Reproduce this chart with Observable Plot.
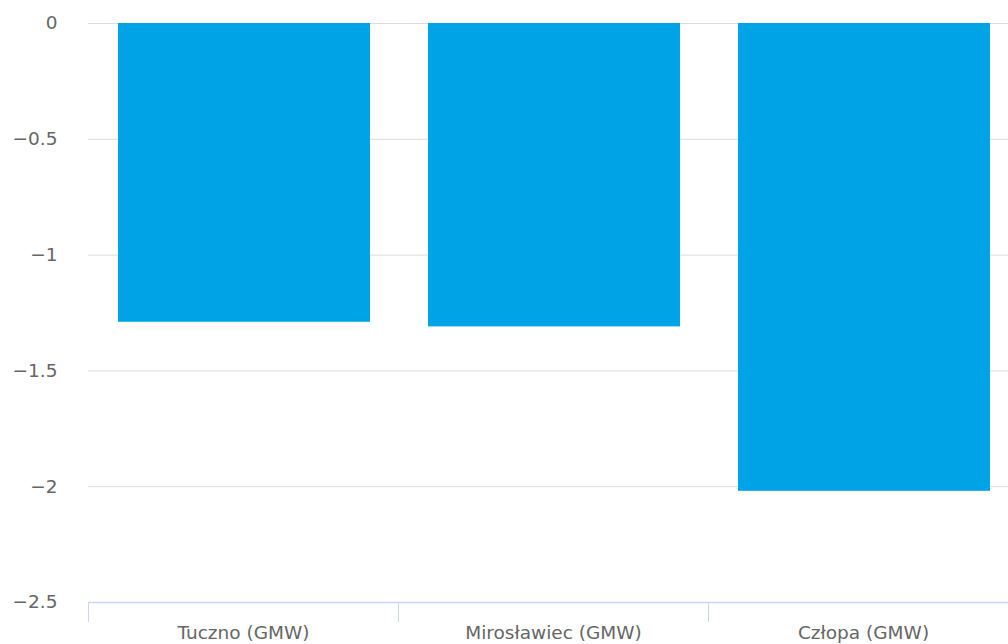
<!DOCTYPE html>
<html>
<head>
<meta charset="utf-8">
<script src="https://cdn.jsdelivr.net/npm/d3@7"></script>
<script src="https://cdn.jsdelivr.net/npm/@observablehq/plot@0.6"></script>
<style>
  html, body { margin: 0; padding: 0; background: #fff; }
  #chart svg { display: block; }
</style>
</head>
<body>
<div id="chart"></div>
<script>
const categories = ["Tuczno (GMW)", "Mirosławiec (GMW)", "Człopa (GMW)"];
const values = [-1.29, -1.31, -2.02];
const yTicks = [0, -0.5, -1, -1.5, -2, -2.5];
const gridTicks = [0, -0.5, -1, -1.5, -2];

const data = categories.map((c, i) => ({ name: c, value: values[i] }));

const W = 1008, H = 644;
const mL = 88, mR = -10, mT = 23, mB = 42;
const bandW = (W - mR - mL) / categories.length;
const font = "DejaVu Sans, sans-serif";
const fmt = d => String(d).replace("-", "\u2212");

const chart = Plot.plot({
  width: W,
  height: H,
  marginLeft: mL,
  marginRight: mR,
  marginTop: mT,
  marginBottom: mB,
  style: { fontFamily: font, fontSize: "18.5px", color: "#666", background: "#fff", overflow: "hidden" },
  x: { domain: categories, padding: 0, label: null },
  y: { domain: [-2.5, 0], label: null },
  marks: [
    Plot.ruleY(gridTicks, { stroke: "#dcdcdc", strokeWidth: 1 }),
    Plot.barY(data, { x: "name", y1: 0, y2: "value", fill: "#00a3e6", insetLeft: 30, insetRight: 28 }),
    Plot.ruleY([-2.5], { stroke: "#ccd6eb", strokeWidth: 1.5 }),
    Plot.axisY({ ticks: yTicks, tickFormat: fmt, tickSize: 0, tickPadding: 31, fill: "#666", fontSize: 18.5, label: null }),
    Plot.axisX({ tickSize: 20, dx: -bandW / 2, tickFormat: () => "", stroke: "#ccd6eb", strokeOpacity: 1, label: null }),
    Plot.axisX({ tickSize: 0, tickPadding: 23, fill: "#666", fontSize: 18.5, label: null })
  ]
});
document.getElementById("chart").appendChild(chart);
</script>
</body>
</html>
